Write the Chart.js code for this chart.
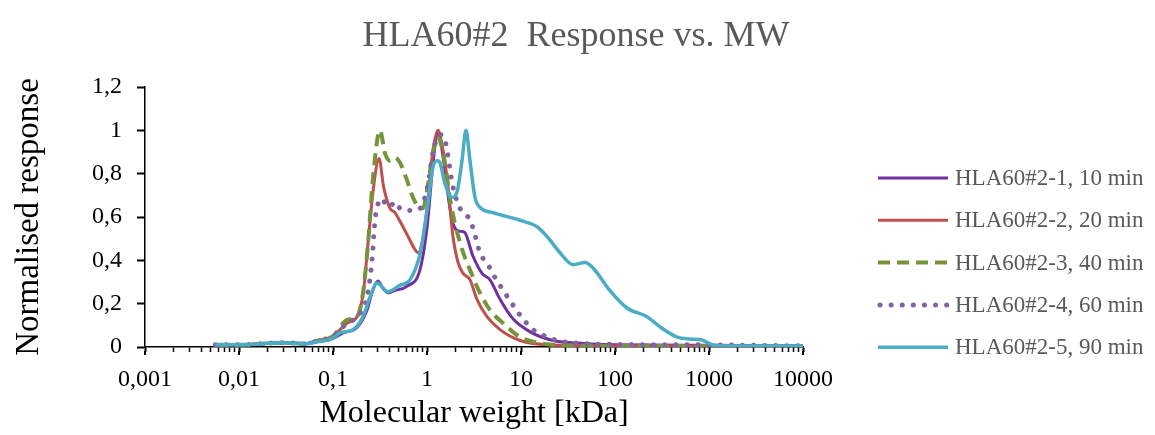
<!DOCTYPE html>
<html>
<head>
<meta charset="utf-8">
<title>HLA60#2 Response vs. MW</title>
<script src="https://cdn.jsdelivr.net/npm/chart.js@4/dist/chart.umd.min.js"></script>
<style>
  body { margin: 0; background: #fff; }
  #wrap { width: 1155px; height: 435px; }
</style>
</head>
<body>
<div id="wrap"><canvas id="mw-chart" width="1155" height="435"></canvas></div>
<script>
const chartTitle = "HLA60#2  Response vs. MW";
const seriesNames = ["HLA60#2-1, 10 min", "HLA60#2-2, 20 min", "HLA60#2-3, 40 min", "HLA60#2-4, 60 min", "HLA60#2-5, 90 min"];
const xTickLabels = ["0,001", "0,01", "0,1", "1", "10", "100", "1000", "10000"];
const yTickLabels = ["0", "0,2", "0,4", "0,6", "0,8", "1", "1,2"];

// molecular weight [kDa] / normalised response, one pair per run
const mw1 = [0.0056, 0.01, 0.03, 0.05, 0.07, 0.1, 0.128, 0.18, 0.23, 0.26, 0.3, 0.34, 0.385, 0.45, 0.61, 0.84, 1.0, 1.16, 1.3, 1.55, 1.7, 1.89, 2.2, 2.5, 3.08, 3.85, 4.68, 5.98, 8.22, 12.5, 21.9, 39.4, 100, 1000, 10000];
const resp1 = [0.01, 0.01, 0.02, 0.015, 0.025, 0.04, 0.065, 0.09, 0.17, 0.25, 0.305, 0.27, 0.25, 0.26, 0.28, 0.355, 0.55, 0.85, 0.99, 0.82, 0.68, 0.57, 0.535, 0.53, 0.42, 0.34, 0.31, 0.22, 0.13, 0.07, 0.03, 0.018, 0.01, 0.008, 0.005];

const mw2 = [0.0056, 0.01, 0.03, 0.05, 0.07, 0.1, 0.141, 0.18, 0.21, 0.236, 0.267, 0.309, 0.345, 0.404, 0.457, 0.516, 0.612, 0.745, 0.802, 0.906, 1.0, 1.16, 1.31, 1.45, 1.63, 1.89, 2.14, 2.42, 2.87, 3.4, 4.35, 5.98, 9.75, 18.9, 50, 1000, 10000];
const resp2 = [0.01, 0.01, 0.02, 0.015, 0.03, 0.05, 0.11, 0.14, 0.25, 0.48, 0.72, 0.87, 0.74, 0.64, 0.62, 0.58, 0.52, 0.45, 0.435, 0.5, 0.64, 0.91, 1.0, 0.93, 0.785, 0.51, 0.39, 0.34, 0.31, 0.22, 0.14, 0.08, 0.03, 0.01, 0.006, 0.005, 0.005];

const mw3 = [0.0056, 0.01, 0.03, 0.05, 0.07, 0.1, 0.141, 0.18, 0.2085, 0.236, 0.267, 0.316, 0.357, 0.404, 0.457, 0.516, 0.612, 0.71, 0.843, 0.906, 1.0, 1.16, 1.3, 1.55, 1.76, 2.25, 2.87, 3.66, 4.68, 6.44, 9.75, 15.9, 30, 1000, 10000];
const resp3 = [0.01, 0.01, 0.02, 0.015, 0.03, 0.05, 0.125, 0.14, 0.25, 0.48, 0.785, 1.0, 0.895, 0.86, 0.875, 0.85, 0.77, 0.69, 0.64, 0.64, 0.72, 0.9, 0.97, 0.85, 0.68, 0.48, 0.355, 0.25, 0.17, 0.11, 0.046, 0.018, 0.008, 0.005, 0.005];

const mw4 = [0.0056, 0.01, 0.03, 0.05, 0.07, 0.1, 0.141, 0.18, 0.23, 0.26, 0.28, 0.301, 0.332, 0.375, 0.404, 0.457, 0.516, 0.659, 0.843, 1.025, 1.159, 1.309, 1.374, 1.552, 1.758, 1.845, 2.245, 2.731, 3.083, 3.66, 4.45, 5.29, 6.28, 8.63, 10.5, 13.4, 17.1, 24.2, 39.4, 100, 1000, 10000];
const resp4 = [0.01, 0.01, 0.02, 0.015, 0.03, 0.05, 0.11, 0.14, 0.23, 0.4, 0.585, 0.66, 0.685, 0.65, 0.65, 0.67, 0.64, 0.63, 0.64, 0.75, 0.9, 0.97, 0.98, 0.955, 0.82, 0.76, 0.64, 0.6, 0.55, 0.435, 0.38, 0.32, 0.27, 0.18, 0.13, 0.08, 0.055, 0.03, 0.018, 0.012, 0.01, 0.005];

const mw5 = [0.0056, 0.01, 0.03, 0.05, 0.07, 0.1, 0.1186, 0.1633, 0.2085, 0.2475, 0.294, 0.385, 0.516, 0.659, 0.843, 1.0, 1.159, 1.277, 1.374, 1.552, 1.845, 2.085, 2.357, 2.6, 2.866, 3.24, 3.66, 5.04, 9.75, 14.8, 18.9, 26, 35.7, 48, 58.4, 88.5, 134, 219, 301, 457, 628, 843, 1104, 1552, 10000];
const resp5 = [0.01, 0.01, 0.02, 0.015, 0.025, 0.04, 0.065, 0.08, 0.14, 0.23, 0.295, 0.255, 0.285, 0.31, 0.43, 0.63, 0.83, 0.86, 0.85, 0.755, 0.69, 0.715, 0.86, 1.0, 0.86, 0.69, 0.645, 0.62, 0.585, 0.555, 0.51, 0.435, 0.38, 0.39, 0.365, 0.26, 0.18, 0.14, 0.093, 0.046, 0.037, 0.032, 0.009, 0.005, 0.005];

const serif = '"Liberation Serif", "Times New Roman", serif';

function toPoints(xs, ys) {
    return xs.map((x, i) => ({ x: x, y: ys[i] }));
}

function isDecade(v) {
    const e = Math.log10(v);
    return Math.abs(e - Math.round(e)) < 1e-6;
}

// title and legend are drawn straight onto the canvas
const decorations = {
    id: "decorations",
    afterDraw(chart) {
        const ctx = chart.ctx;
        ctx.save();
        ctx.fillStyle = "#595959";
        ctx.font = "36px " + serif;
        ctx.textAlign = "center";
        ctx.textBaseline = "alphabetic";
        ctx.fillText(chartTitle, 576, 46);

        ctx.font = "23px " + serif;
        ctx.textAlign = "left";
        ctx.textBaseline = "middle";
        chart.data.datasets.forEach(function(ds, i) {
            const y = 178 + i * 42.3;
            ctx.strokeStyle = ds.borderColor;
            ctx.lineWidth = ds.borderWidth;
            ctx.lineCap = ds.borderCapStyle || "butt";
            ctx.setLineDash(ds.borderDash || []);
            ctx.beginPath();
            ctx.moveTo(ds.borderDash && ds.borderDash[0] < 1 ? 880 : 878, y);
            ctx.lineTo(948, y);
            ctx.stroke();
            ctx.setLineDash([]);
            ctx.fillStyle = "#595959";
            ctx.fillText(ds.label, 955, y + 1);
        });

        // decade ticks on the x axis are a little longer than the minor ones
        const x = chart.scales.x;
        ctx.strokeStyle = "#000";
        ctx.lineWidth = 2;
        x.ticks.forEach(function(t) {
            if (!isDecade(t.value)) return;
            const px = Math.round(x.getPixelForValue(t.value));
            ctx.beginPath();
            ctx.moveTo(px, x.top + 4);
            ctx.lineTo(px, x.top + 8);
            ctx.stroke();
        });
        ctx.restore();
    }
};

const ctx = document.getElementById("mw-chart").getContext("2d");

new Chart(ctx, {
    type: "line",
    data: {
        datasets: [
            { label: seriesNames[0], data: toPoints(mw1, resp1), borderColor: "#7030A0", borderWidth: 3, order: 4 },
            { label: seriesNames[1], data: toPoints(mw2, resp2), borderColor: "#C0504D", borderWidth: 3, order: 3 },
            { label: seriesNames[2], data: toPoints(mw3, resp3), borderColor: "#77933C", borderWidth: 4, borderDash: [12, 7], order: 2 },
            { label: seriesNames[3], data: toPoints(mw4, resp4), borderColor: "#8064A2", borderWidth: 5, borderDash: [0.1, 11], borderCapStyle: "round", order: 1 },
            { label: seriesNames[4], data: toPoints(mw5, resp5), borderColor: "#4BACC6", borderWidth: 3.5, order: 0 }
        ]
    },
    options: {
        responsive: false,
        animation: false,
        events: [],
        layout: { padding: { left: 0, right: 352, top: 87, bottom: 0 } },
        elements: {
            point: { radius: 0 },
            line: { cubicInterpolationMode: "monotone", fill: false }
        },
        plugins: {
            legend: { display: false },
            title: { display: false },
            tooltip: { enabled: false }
        },
        scales: {
            x: {
                type: "logarithmic",
                min: 0.001,
                max: 10000,
                afterBuildTicks: function(scale) {
                    const ticks = [];
                    for (let e = -3; e < 4; e++) {
                        for (let k = 1; k < 10; k++) {
                            ticks.push({ value: k * Math.pow(10, e), major: k === 1 });
                        }
                    }
                    ticks.push({ value: 10000, major: true });
                    scale.ticks = ticks;
                },
                afterFit: function(scale) { scale.height = 88; },
                border: { display: true, color: "#000", width: 1.5 },
                grid: {
                    drawOnChartArea: false,
                    drawTicks: true,
                    tickLength: 5,
                    tickColor: "#000",
                    tickWidth: function(c) { return c.tick && isDecade(c.tick.value) ? 2 : 1.5; }
                },
                ticks: {
                    autoSkip: false,
                    maxRotation: 0,
                    padding: 13,
                    color: "#000",
                    font: { family: serif, size: 24 },
                    callback: function(value) {
                        if (!isDecade(value)) return "";
                        return xTickLabels[Math.round(Math.log10(value)) + 3];
                    }
                },
                title: {
                    display: true,
                    text: "Molecular weight [kDa]",
                    color: "#000",
                    font: { family: serif, size: 32 },
                    padding: { top: 0, bottom: 2 }
                }
            },
            y: {
                min: 0,
                max: 1.2,
                afterFit: function(scale) { scale.width = 145; },
                border: { display: true, color: "#000", width: 1.5 },
                grid: {
                    drawOnChartArea: false,
                    drawTicks: true,
                    tickLength: 8,
                    tickColor: "#000",
                    tickWidth: 2
                },
                ticks: {
                    stepSize: 0.2,
                    padding: 15,
                    color: "#000",
                    font: { family: serif, size: 24 },
                    callback: function(value) {
                        return yTickLabels[Math.round(value * 5)];
                    }
                },
                title: {
                    display: true,
                    text: "Normalised response",
                    color: "#000",
                    font: { family: serif, size: 33 },
                    padding: { top: 10, bottom: 0 }
                }
            }
        }
    },
    plugins: [decorations]
});
</script>
</body>
</html>
